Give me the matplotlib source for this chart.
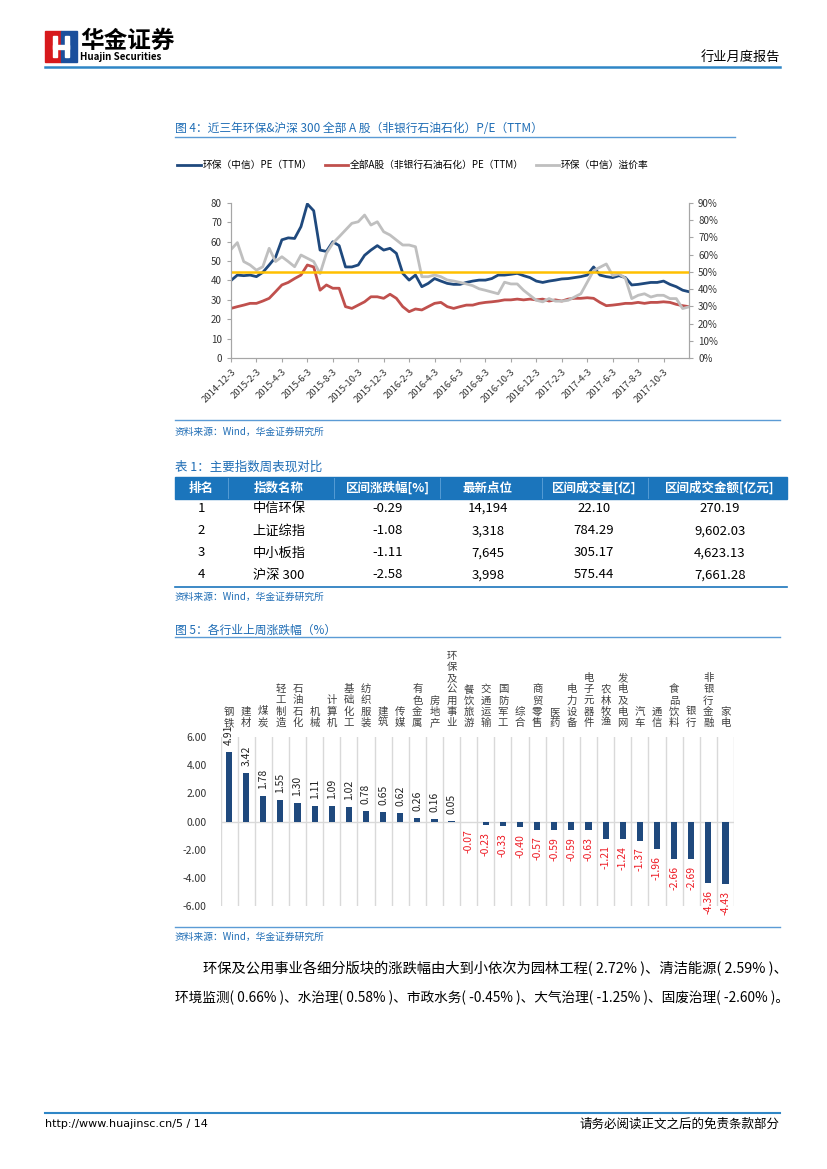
import matplotlib
matplotlib.use('Agg')
import matplotlib.pyplot as plt
from matplotlib.patches import Rectangle
from matplotlib.ticker import FuncFormatter
import numpy as np

plt.rcParams['font.family'] = ['Noto Sans CJK SC', 'DejaVu Sans']
plt.rcParams['axes.unicode_minus'] = False

# ---- 图4 data: half-monthly readings, 2014-12-3 .. 2017-12 ----
date_ticks = ['2014-12-3', '2015-2-3', '2015-4-3', '2015-6-3', '2015-8-3', '2015-10-3',
              '2015-12-3', '2016-2-3', '2016-4-3', '2016-6-3', '2016-8-3', '2016-10-3',
              '2016-12-3', '2017-2-3', '2017-4-3', '2017-6-3', '2017-8-3', '2017-10-3']
hb_pe = [40, 42.8, 42.5, 42.8, 42, 44.2, 48, 52, 61, 62, 61.7, 67.8, 79.5, 76, 55.7, 55,
         60, 58, 47, 47, 48, 53, 55.7, 58, 55.7, 56.6, 54, 43.7, 40.2, 42.8, 36.8, 38.5,
         41, 39.7, 38.5, 38, 38,
         39, 39.7, 40.2, 40.2, 41, 42.8, 42.8, 43.2, 43.7, 42.5, 41.5, 39.7, 39, 39.7, 40.2,
         40.8, 41, 41.5, 42, 42.8, 47, 42.8, 42, 41.5, 42.5, 41.5, 37.7, 38, 38.5, 39, 39,
         39.7, 38, 36.8, 35, 34.2]
a_pe = [25.6, 26.5, 27.3, 28.2, 28.2, 29.4, 30.8, 34.2, 37.7, 39, 41, 42.8, 48, 47, 35, 37.7,
        36, 36, 26.5, 25.6, 27.3, 29, 31.6, 31.6, 30.8, 32.9, 30.8, 26.5, 23.9, 25.3, 24.8,
        26.5, 28.2, 28.7, 26.5, 25.6, 26.5,
        27.3, 27.3, 28.2, 28.7, 29, 29.4, 30, 30, 30.4, 30, 30.4, 30, 30.4, 29.4, 30, 29.4,
        30.4, 30.8, 30.8, 31.1, 30.8, 28.7, 27, 27.3, 27.7, 28.2, 28.2, 28.7, 28.2, 28.7,
        28.7, 29, 28.7, 27.7, 27, 26.5]
premium = [63, 67, 56, 54, 51, 53, 63.7, 56, 58.8, 56, 53, 59.8, 57.9, 56, 49, 60.8, 66.6,
           70.4, 74.3, 78.2, 79.1, 83, 77.2, 79.1, 73.3, 71.4, 68.5, 65.6, 65.6, 64.6, 47.2,
           47.2, 48.2, 47.2, 45.3, 44.7, 43.9,
           43, 42, 40.2, 39.3, 38.3, 37.3, 44, 43, 43, 39.3, 36.4, 33.5, 32.6, 34.5, 33, 33,
           33.5, 35.4, 37.3, 44, 50.7, 52.7, 54.6, 47.9, 48.8, 46.3, 34.5, 36.4, 37.3, 35.4,
           36.4, 36.4, 34.5, 34.5, 28.7, 29.7]
premium_ref = 50

# ---- 表1 ----
tbl_header = ['排名', '指数名称', '区间涨跌幅[%]', '最新点位', '区间成交量[亿]', '区间成交金额[亿元]']
tbl_rank = ['1', '2', '3', '4']
tbl_name = ['中信环保', '上证综指', '中小板指', '沪深 300']
tbl_chg = ['-0.29', '-1.08', '-1.11', '-2.58']
tbl_last = ['14,194', '3,318', '7,645', '3,998']
tbl_vol = ['22.10', '784.29', '305.17', '575.44']
tbl_amt = ['270.19', '9,602.03', '4,623.13', '7,661.28']

# ---- 图5 ----
industries = ['钢铁', '建材', '煤炭', '轻工制造', '石油石化', '机械', '计算机', '基础化工',
              '纺织服装', '建筑', '传媒', '有色金属', '房地产', '环保及公用事业', '餐饮旅游',
              '交通运输', '国防军工', '综合', '商贸零售', '医药', '电力设备', '电子元器件',
              '农林牧渔', '发电及电网', '汽车', '通信', '食品饮料', '银行', '非银行金融', '家电']
chg = [4.91, 3.42, 1.78, 1.55, 1.30, 1.11, 1.09, 1.02, 0.78, 0.65, 0.62, 0.26, 0.16, 0.05,
       -0.07, -0.23, -0.33, -0.40, -0.57, -0.59, -0.59, -0.63, -1.21, -1.24, -1.37, -1.96,
       -2.66, -2.69, -4.36, -4.43]

W, H = 827, 1169
BLUE_T = '#1F6DB5'
LINE_C = '#5B9BD5'

fig = plt.figure(figsize=(8.27, 11.69), dpi=100)
page = fig.add_axes([0, 0, 1, 1])
page.set_xlim(0, W)
page.set_ylim(H, 0)
page.axis('off')


def ax_at(l, t, r, b):
    return fig.add_axes([l / W, 1 - b / H, (r - l) / W, (b - t) / H])


# header
page.add_patch(Rectangle((45, 31), 16, 31, color='#D7191C'))
page.add_patch(Rectangle((61, 31), 16, 31, color='#1B4F9C'))
page.add_patch(Rectangle((53, 36), 4, 21, color='white'))
page.add_patch(Rectangle((65, 36), 4, 21, color='white'))
page.add_patch(Rectangle((53, 45), 16, 3.5, color='white'))
page.text(80, 41, '华金证券', fontsize=17, fontweight='bold', va='center', ha='left')
page.text(80, 57, 'Huajin Securities', fontsize=7, fontweight='bold', va='center', ha='left')
page.text(780, 57, '行业月度报告', fontsize=9.5, va='center', ha='right')
page.plot([45, 780], [67, 67], color='#2F86C6', lw=1.8)

# figure 4
page.text(175, 128, '图 4：近三年环保&沪深 300 全部 A 股（非银行石油石化）P/E（TTM）',
          fontsize=8.5, color=BLUE_T, va='center')
page.plot([175, 735], [137, 137], color=LINE_C, lw=1)

ax1 = ax_at(231, 203, 689, 358)
x = np.arange(len(hb_pe)) * 0.5
l1, = ax1.plot(x, hb_pe, color='#1F497D', lw=2)
l2, = ax1.plot(x, a_pe, color='#C0504D', lw=2)
ax2 = ax1.twinx()
l3, = ax2.plot(x, premium, color='#BFBFBF', lw=2)
ax2.axhline(premium_ref, color='#FFC000', lw=1.8)
ax1.set_xlim(0, 36)
ax1.set_ylim(0, 80)
ax1.set_yticks(range(0, 81, 10))
ax2.set_ylim(0, 90)
ax2.set_yticks(range(0, 91, 10))
ax2.yaxis.set_major_formatter(FuncFormatter(lambda v, p: f'{v:.0f}%'))
ax1.set_xticks(np.arange(0, 35, 2))
ax1.set_xticklabels(date_ticks, rotation=45, ha='right', rotation_mode='anchor')
for a in (ax1, ax2):
    a.spines['top'].set_visible(False)
    for s in ('left', 'right', 'bottom'):
        a.spines[s].set_color('#A6A6A6')
    a.tick_params(colors='#A6A6A6', labelcolor='#333333', labelsize=7, length=3)
ax1.tick_params(axis='x', labelsize=6.8)
fig.legend([l1, l2, l3], ['环保（中信）PE（TTM）', '全部A股（非银行石油石化）PE（TTM）', '环保（中信）溢价率'],
           loc='center', bbox_to_anchor=(413 / W, 1 - 165 / H), ncol=3, frameon=False,
           fontsize=7, handlelength=2.4, columnspacing=1.3, handletextpad=0.15)

page.plot([175, 780], [420, 420], color=LINE_C, lw=1)
page.text(175, 432, '资料来源：Wind，华金证券研究所', fontsize=7, color=BLUE_T, style='italic', va='center')

# table 1
page.text(175, 467, '表 1：主要指数周表现对比', fontsize=9, color=BLUE_T, va='center')
page.add_patch(Rectangle((175, 477), 612, 22, color='#1B75BC'))
col_x = [201, 279, 388, 488, 594, 720]
for sx in [228, 334, 440, 542, 648]:
    page.plot([sx, sx], [478, 498], color='#5FA2D8', lw=0.6)
for cx, h in zip(col_x, tbl_header):
    page.text(cx, 488, h, fontsize=9, color='white', fontweight='bold', ha='center', va='center')
row_y = [508, 531, 553, 575]
for i, ry in enumerate(row_y):
    for cx, col in zip(col_x, [tbl_rank, tbl_name, tbl_chg, tbl_last, tbl_vol, tbl_amt]):
        page.text(cx, ry, col[i], fontsize=9.5, ha='center', va='center')
page.plot([175, 787], [587, 587], color='#1B75BC', lw=1.2)
page.text(175, 597, '资料来源：Wind，华金证券研究所', fontsize=7, color=BLUE_T, style='italic', va='center')

# figure 5
page.text(175, 630, '图 5：各行业上周涨跌幅（%）', fontsize=8.5, color=BLUE_T, va='center')
page.plot([175, 780], [637, 637], color=LINE_C, lw=1)

axb = ax_at(220.5, 737, 734, 906)
idx = np.arange(len(industries))
axb.bar(idx, chg, width=0.36, color='#1F497D', zorder=3)
for b in np.arange(-0.5, len(industries)):
    axb.axvline(b, color='#D9D9D9', lw=1, zorder=1)
axb.axhline(0, color='#D9D9D9', lw=1, zorder=2)
axb.set_xlim(-0.5, len(industries) - 0.5)
axb.set_ylim(-6, 6)
axb.set_yticks(np.arange(-6, 6.1, 2))
axb.yaxis.set_major_formatter(FuncFormatter(lambda v, p: f'{v:.2f}'))
axb.set_xticks([])
axb.tick_params(axis='y', length=0, pad=10, labelsize=7.5, labelcolor='#333333')
for s in axb.spines.values():
    s.set_visible(False)
for i, (name, v) in enumerate(zip(industries, chg)):
    axb.annotate('\n'.join(name), xy=(i, 1), xycoords=('data', 'axes fraction'),
                 xytext=(0, 6.5), textcoords='offset points', ha='center', va='bottom',
                 fontsize=7.5, linespacing=1.15, color='#404040', annotation_clip=False)
    if v >= 0:
        axb.annotate(f'{v:.2f}', xy=(i, v), xytext=(0, 5), textcoords='offset points',
                     rotation=90, ha='center', va='bottom', fontsize=7.5, color='#222222',
                     annotation_clip=False)
    else:
        axb.annotate(f'{v:.2f}', xy=(i, v), xytext=(0, -5), textcoords='offset points',
                     rotation=90, ha='center', va='top', fontsize=7.5, color='#EE1C25',
                     annotation_clip=False)

page.plot([175, 780], [927, 927], color=LINE_C, lw=1)
page.text(175, 937, '资料来源：Wind，华金证券研究所', fontsize=7, color=BLUE_T, style='italic', va='center')

# paragraph
page.text(203, 969, '环保及公用事业各细分版块的涨跌幅由大到小依次为园林工程( 2.72% )、清洁能源( 2.59% )、',
          fontsize=10.3, va='center')
page.text(175, 998, '环境监测( 0.66% )、水治理( 0.58% )、市政水务( -0.45% )、大气治理( -1.25% )、固废治理( -2.60% )。',
          fontsize=9.85, va='center')

# footer
page.plot([45, 780], [1113, 1113], color='#2F86C6', lw=1.5)
page.text(45, 1124, 'http://www.huajinsc.cn/5 / 14', fontsize=8, va='center',
          family=['Liberation Sans Narrow', 'DejaVu Sans'])
page.text(780, 1124, '请务必阅读正文之后的免责条款部分', fontsize=9, va='center', ha='right')

fig.savefig('out.png', dpi=100)
